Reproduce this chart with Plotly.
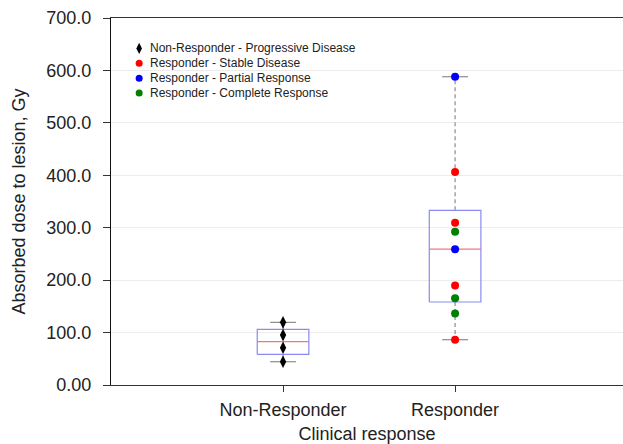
import plotly.graph_objects as go

# ---- data ----
categories = ["Non-Responder", "Responder"]
cat_pos = [0, 1]

nonresp_progressive = [119.5, 95.2, 71.1, 44.4]
resp_stable = [406.4, 309.4, 189.7, 86.4]
resp_partial = [588.0, 259.1]
resp_complete = [292.2, 165.4, 136.2]

box_q1 = [58.3, 158.3]
box_median = [82.6, 259.1]
box_q3 = [106.0, 333.1]
box_lower = [44.4, 86.4]
box_upper = [119.5, 588.0]

y_tickvals = [0, 100, 200, 300, 400, 500, 600, 700]
y_ticktext = ["0.00", "100.0", "200.0", "300.0", "400.0", "500.0", "600.0", "700.0"]

legend_names = ["Non-Responder - Progressive Disease", "Responder - Stable Disease",
                "Responder - Partial Response", "Responder - Complete Response"]
legend_colors = ["black", "#ff0000", "#0000ff", "#008000"]
legend_symbols = ["diamond-tall", "circle", "circle", "circle"]

# ---- style ----
FONT = "Liberation Sans, Arial, Helvetica, sans-serif"
BOX_HALF = 0.15
CAP_HALF = 0.075
BOX_COLOR = "#8a8af0"
MED_COLOR = "#f07878"
WHISK_COLOR = "#8c8c8c"

fig = go.Figure()

for c, q1, med, q3, lo, hi in zip(cat_pos, box_q1, box_median, box_q3, box_lower, box_upper):
    fig.add_trace(go.Scatter(x=[c, c, None, c, c], y=[q3, hi, None, q1, lo], mode="lines",
                             line=dict(color=WHISK_COLOR, width=1.2, dash="4px,3px"),
                             showlegend=False, hoverinfo="skip"))
    fig.add_trace(go.Scatter(x=[c - CAP_HALF, c + CAP_HALF, None, c - CAP_HALF, c + CAP_HALF],
                             y=[hi, hi, None, lo, lo], mode="lines",
                             line=dict(color=WHISK_COLOR, width=1.2),
                             showlegend=False, hoverinfo="skip"))
    fig.add_trace(go.Scatter(x=[c - BOX_HALF, c + BOX_HALF, c + BOX_HALF, c - BOX_HALF, c - BOX_HALF],
                             y=[q1, q1, q3, q3, q1], mode="lines",
                             line=dict(color=BOX_COLOR, width=1.2),
                             showlegend=False, hoverinfo="skip"))
    fig.add_trace(go.Scatter(x=[c - BOX_HALF, c + BOX_HALF], y=[med, med], mode="lines",
                             line=dict(color=MED_COLOR, width=1.2),
                             showlegend=False, hoverinfo="skip"))

def pts(vals, c, name, color, symbol, size):
    fig.add_trace(go.Scatter(x=[c] * len(vals), y=vals, mode="markers", name=name,
                             marker=dict(color=color, symbol=symbol, size=size, line=dict(width=0)),
                             showlegend=False))

pts(nonresp_progressive, cat_pos[0], legend_names[0], legend_colors[0], legend_symbols[0], 9)
pts(resp_stable, cat_pos[1], legend_names[1], legend_colors[1], "circle", 8)
pts(resp_partial, cat_pos[1], legend_names[2], legend_colors[2], "circle", 8)
pts(resp_complete, cat_pos[1], legend_names[3], legend_colors[3], "circle", 8)

# ---- compact legend (overlay axis in plot-fraction units) ----
LEG_MARK_X = 0.055
LEG_TEXT_X = 0.073
LEG_Y0 = 0.917
LEG_STEP = 0.0405
for i, (nm, col, sym) in enumerate(zip(legend_names, legend_colors, legend_symbols)):
    yy = LEG_Y0 - i * LEG_STEP
    fig.add_trace(go.Scatter(x=[LEG_MARK_X], y=[yy], xaxis="x2", yaxis="y2", mode="markers",
                             marker=dict(color=col, symbol=sym, size=7 if sym == "circle" else 8,
                                         line=dict(width=0)),
                             showlegend=False, hoverinfo="skip", name=nm))
    fig.add_annotation(x=LEG_TEXT_X, y=yy, xref="paper", yref="paper", text=nm,
                       showarrow=False, xanchor="left", yanchor="middle",
                       font=dict(size=12, color="#222222"))

fig.update_layout(
    width=623, height=444,
    margin=dict(l=111, r=0, t=18, b=59, pad=0),
    paper_bgcolor="white", plot_bgcolor="white",
    font=dict(family=FONT, size=18, color="#222222"),
    showlegend=False,
    xaxis=dict(range=[-1, 1.976], tickvals=cat_pos, ticktext=categories,
               showgrid=False, zeroline=False, showline=True, linecolor="#333333",
               linewidth=1.2, mirror=True, ticks="outside", ticklen=6, tickcolor="#333333",
               ticklabelstandoff=2,
               tickfont=dict(size=18, color="#222222"),
               title=dict(text="Clinical response", font=dict(size=18, color="#222222"), standoff=12)),
    yaxis=dict(range=[0, 700], tickvals=y_tickvals, ticktext=y_ticktext,
               showgrid=True, gridcolor="#ececec", gridwidth=1, zeroline=False,
               showline=True, linecolor="#111111", linewidth=1.2,
               ticks="outside", ticklen=7, tickcolor="#333333",
               ticklabelstandoff=8,
               tickfont=dict(size=18, color="#222222"),
               title=dict(text="Absorbed dose to lesion, Gy", font=dict(size=18, color="#222222"), standoff=15)),
    xaxis2=dict(overlaying="x", range=[0, 1], visible=False, fixedrange=True),
    yaxis2=dict(overlaying="y", range=[0, 1], visible=False, fixedrange=True),
)

fig.write_html("out.html")
